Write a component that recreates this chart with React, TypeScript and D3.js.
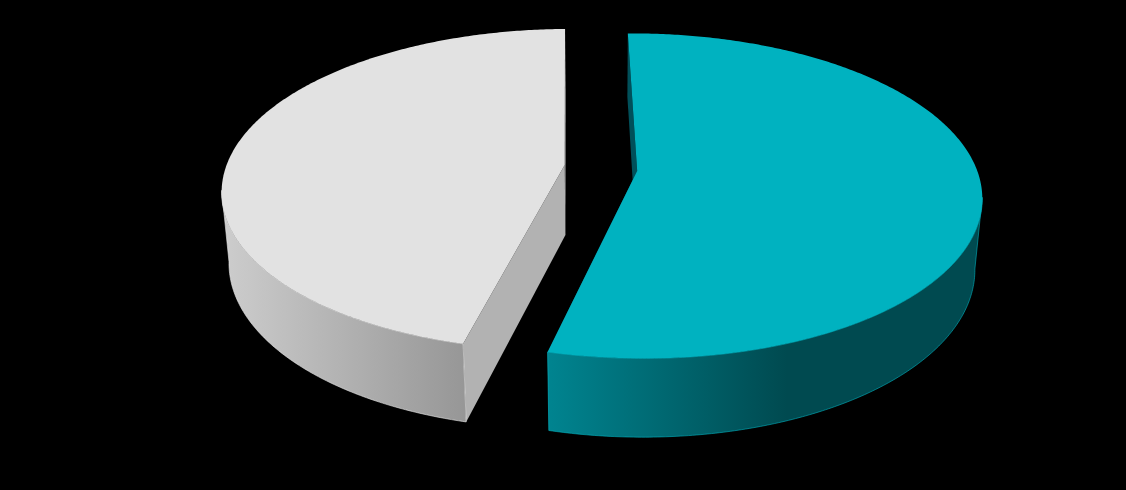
import * as d3 from "d3";

const WIDTH = 1126;
const HEIGHT = 490;

// slices, clockwise from the top of the pie
const categories = ["Teal", "Grey"];
const values = [54.1, 45.9];

const topColors = ["#00b2c0", "#e2e2e2"];
const cutColors = ["#00505a", "#b2b2b2"];
const edgeColors = ["#00b2c0", "#e8e8e8"];
const wallStops = [
  [
    [0, "#008490"],
    [0.55, "#004a50"],
    [1, "#004a50"],
  ],
  [
    [0, "#cdcdcd"],
    [1, "#979797"],
  ],
];

// camera, worked out from the ellipse in the picture
const centerX = 601.7;
const centerY = 169;
const tilt = (27.75 * Math.PI) / 180;
const camDist = 5.75;
const focal = 1952;
const depth = 0.2385; // thickness of the pie
const explode = 0.105;
const rotation = (-0.9 * Math.PI) / 180;
// grey sits a touch further back and left than a plain explode gives
const nudgeX = [0, -0.005];
const nudgeY = [0, 0.014];

function project(x: number, y: number, z: number): [number, number] {
  const s = Math.sin(tilt);
  const c = Math.cos(tilt);
  const D = camDist + y * c - z * s;
  return [centerX + (focal * x) / D, centerY - (focal * (y * s + z * c)) / D];
}

const pie = d3
  .pie<number>()
  .sort(null)
  .startAngle(rotation)
  .endAngle(rotation + 2 * Math.PI);

const line = d3.line();

// the rim is widest on screen where cos(t) = -c/d
const tangentCos = -Math.cos(tilt) / camDist;

export default function App() {
  const arcs = pie(values);

  return (
    <svg
      width={WIDTH}
      height={HEIGHT}
      style={{ position: "absolute", left: 0, top: 0, display: "block" }}
    >
      <title>3D pie chart</title>
      <rect width={WIDTH} height={HEIGHT} fill="#000" />
      {arcs.map((a, i) => {
        const mid = (a.startAngle + a.endAngle) / 2;
        const ox = explode * Math.sin(mid) + nudgeX[i];
        const oy = explode * Math.cos(mid) + nudgeY[i];
        const point = (t: number, r: number, z: number) =>
          project(ox + r * Math.sin(t), oy + r * Math.cos(t), z);

        const angles = [...d3.range(a.startAngle, a.endAngle, 0.01), a.endAngle];
        const topRim = angles.map((t) => point(t, 1, 0));
        const apexTop = point(0, 0, 0);
        const apexBottom = point(0, 0, -depth);

        const cutWall = (t: number) =>
          line([apexTop, point(t, 1, 0), point(t, 1, -depth), apexBottom]) + "Z";

        // only the front of the outer wall shows
        const front = angles.filter((t) => Math.cos(t) <= tangentCos);
        const frontTop = front.map((t) => point(t, 1, 0));
        const frontBottom = front.map((t) => point(t, 1, -depth));
        const [x0, x1] = d3.extent(frontTop, (p) => p[0]) as [number, number];
        const gradId = `wall-${i}`;

        return (
          <g key={categories[i]}>
            <defs>
              <linearGradient
                id={gradId}
                gradientUnits="userSpaceOnUse"
                x1={x0}
                x2={x1}
                y1={0}
                y2={0}
              >
                {wallStops[i].map(([o, col]) => (
                  <stop key={o} offset={o} stopColor={col as string} />
                ))}
              </linearGradient>
            </defs>
            <path d={cutWall(a.startAngle)} fill={cutColors[i]} />
            <path d={cutWall(a.endAngle)} fill={cutColors[i]} />
            <path
              d={line([...frontTop, ...[...frontBottom].reverse()]) + "Z"}
              fill={`url(#${gradId})`}
              stroke={edgeColors[i]}
              strokeWidth={0.6}
            />
            <path d={line([apexTop, ...topRim]) + "Z"} fill={topColors[i]} />
          </g>
        );
      })}
    </svg>
  );
}
